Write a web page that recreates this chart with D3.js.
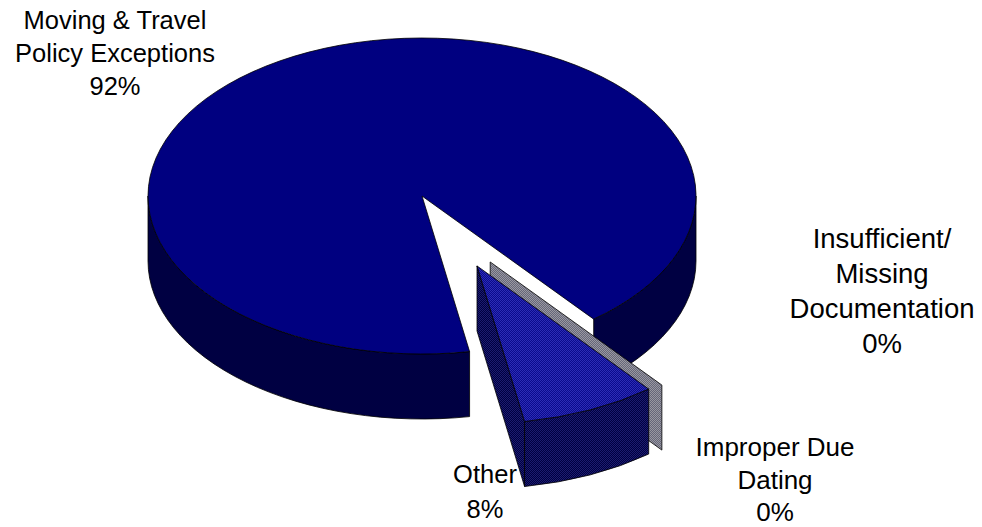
<!DOCTYPE html>
<html>
<head>
<meta charset="utf-8">
<script src="https://cdn.jsdelivr.net/npm/d3@7"></script>
<style>
  html, body { margin: 0; padding: 0; background: #ffffff; }
  svg { display: block; }
  text { font-family: Arial, "Liberation Sans", sans-serif; fill: #000; }
</style>
</head>
<body>
<svg id="chart" width="982" height="527"></svg>
<script>
// ---- data ----
const categories = [
  "Moving & Travel Policy Exceptions",
  "Insufficient/ Missing Documentation",
  "Improper Due Dating",
  "Other"
];
const labelLines = [
  ["Moving & Travel", "Policy Exceptions"],
  ["Insufficient/", "Missing", "Documentation"],
  ["Improper Due", "Dating"],
  ["Other"]
];
const values = [92, 0, 0, 8];
const percentLabels = ["92%", "0%", "0%", "8%"];

// ---- layout / style ----
const W = 982, H = 527;
const cx = 422, cy = 196, rx = 274, ry = 158, depth = 65;
const startDeg = 170;            // d3 angle (clockwise from 12 o'clock)
const explode = [0, 0, 0.486, 0.486];
const explodeShiftDeg = [0, 0, 8, 0];
const labelLayout = [
  { x: 115, y: 29,  dy: 33,   size: 25.5 },
  { x: 882, y: 248, dy: 35,   size: 27.5 },
  { x: 775, y: 456, dy: 32.5, size: 26 },
  { x: 485, y: 483, dy: 35,   size: 25.5 }
];

const svg = d3.select("#chart");
const defs = svg.append("defs");
function makePattern(id, a, b) {
  const p = defs.append("pattern").attr("id", id)
    .attr("width", 2).attr("height", 2).attr("patternUnits", "userSpaceOnUse");
  p.append("rect").attr("width", 2).attr("height", 2).attr("fill", a);
  p.append("rect").attr("width", 1).attr("height", 1).attr("fill", b);
  p.append("rect").attr("x", 1).attr("y", 1).attr("width", 1).attr("height", 1).attr("fill", b);
}
makePattern("otherTop", "#0a0a8c", "#2c2cb6");
makePattern("otherSide", "#000040", "#1c1c70");
makePattern("grayFace", "#66667a", "#9898a0");

const fills = [
  { top: "#000080", side: "#000042", face: "#000042", stroke: "#000" },
  { top: "#ffffff", side: "#ffffff", face: "#ffffff", stroke: "none" },
  { top: "url(#grayFace)", side: "url(#grayFace)", face: "url(#grayFace)", stroke: "#000" },
  { top: "url(#otherTop)", side: "url(#otherSide)", face: "url(#otherSide)", stroke: "#000" }
];

// scales mapping unit-ellipse coordinates to pixels
const xs = d3.scaleLinear().domain([-1, 1]).range([cx - rx, cx + rx]);
const ys = d3.scaleLinear().domain([-1, 1]).range([cy - ry, cy + ry]);

const toRad = d => d * Math.PI / 180;
const pie = d3.pie().sort(null).value(d => d)
  .startAngle(toRad(startDeg)).endAngle(toRad(startDeg + 360));
const arcs = pie(values);

// screen angle (clockwise from 3 o'clock) from d3 angle
const scr = a => a - Math.PI / 2;

function offsetFor(i, d) {
  const mid = scr((d.startAngle + d.endAngle) / 2) + toRad(explodeShiftDeg[i]);
  return [explode[i] * Math.cos(mid), explode[i] * Math.sin(mid)];
}
function pt(theta, off, dz = 0, r = 1) {
  return [xs(r * Math.cos(theta) + off[0]), ys(r * Math.sin(theta) + off[1]) + dz];
}
const fmt = p => p[0].toFixed(2) + "," + p[1].toFixed(2);

function rimPath(t1, t2, off) {
  const a = pt(t1, off), b = pt(t2, off);
  const b2 = pt(t2, off, depth), a2 = pt(t1, off, depth);
  const large = (t2 - t1) > Math.PI ? 1 : 0;
  return `M${fmt(a)}A${rx},${ry} 0 ${large} 1 ${fmt(b)}L${fmt(b2)}A${rx},${ry} 0 ${large} 0 ${fmt(a2)}Z`;
}
function topPath(t1, t2, off) {
  const c = [xs(off[0]), ys(off[1])];
  const a = pt(t1, off), b = pt(t2, off);
  const large = (t2 - t1) > Math.PI ? 1 : 0;
  return `M${fmt(c)}L${fmt(a)}A${rx},${ry} 0 ${large} 1 ${fmt(b)}Z`;
}
function facePath(t, off) {
  const c = [xs(off[0]), ys(off[1])];
  const a = pt(t, off);
  return `M${fmt(c)}L${fmt(a)}L${fmt([a[0], a[1] + depth])}L${fmt([c[0], c[1] + depth])}Z`;
}
// visible (front) parts of rim: screen angles in [0, PI] mod 2PI
function frontRanges(t1, t2) {
  const out = [];
  for (let k = -1; k <= 2; k++) {
    const lo = Math.max(t1, 2 * Math.PI * k), hi = Math.min(t2, 2 * Math.PI * k + Math.PI);
    if (hi > lo + 1e-6) out.push([lo, hi]);
  }
  return out;
}

const g = svg.append("g");
const sw = 0.8;
// draw order: hidden zero plane first, then main slice, exploded zero plane, exploded Other
const order = [1, 0, 2, 3];
order.forEach(i => {
  const d = arcs[i];
  const off = offsetFor(i, d);
  const t1 = scr(d.startAngle), t2 = scr(d.endAngle);
  const f = fills[i];
  if (d.value === 0) {
    g.append("path").attr("d", facePath(t1, off))
      .attr("fill", f.face).attr("stroke", f.stroke).attr("stroke-width", sw)
      .attr("stroke-linejoin", "round");
    return;
  }
  if (i !== 0) {
    const nEnd = Math.cos(t2); // y-component of the end face normal
    if (nEnd > 0) {
      g.append("path").attr("d", facePath(t2, off))
        .attr("fill", f.face).attr("stroke", f.stroke).attr("stroke-width", sw)
        .attr("stroke-linejoin", "round");
    }
  }
  frontRanges(t1, t2).forEach(([a, b]) => {
    g.append("path").attr("d", rimPath(a, b, off))
      .attr("fill", f.side).attr("stroke", f.stroke).attr("stroke-width", sw)
      .attr("stroke-linejoin", "round");
  });
  g.append("path").attr("d", topPath(t1, t2, off))
    .attr("fill", f.top).attr("stroke", f.stroke).attr("stroke-width", sw)
    .attr("stroke-linejoin", "round");
});

// labels
const lg = svg.append("g");
categories.forEach((c, i) => {
  const L = labelLayout[i];
  const lines = labelLines[i].concat([percentLabels[i]]);
  const t = lg.append("text").attr("text-anchor", "middle")
    .attr("font-size", L.size + "px");
  lines.forEach((s, j) => {
    t.append("tspan").attr("x", L.x).attr("y", L.y + j * L.dy).text(s);
  });
});
</script>
</body>
</html>
